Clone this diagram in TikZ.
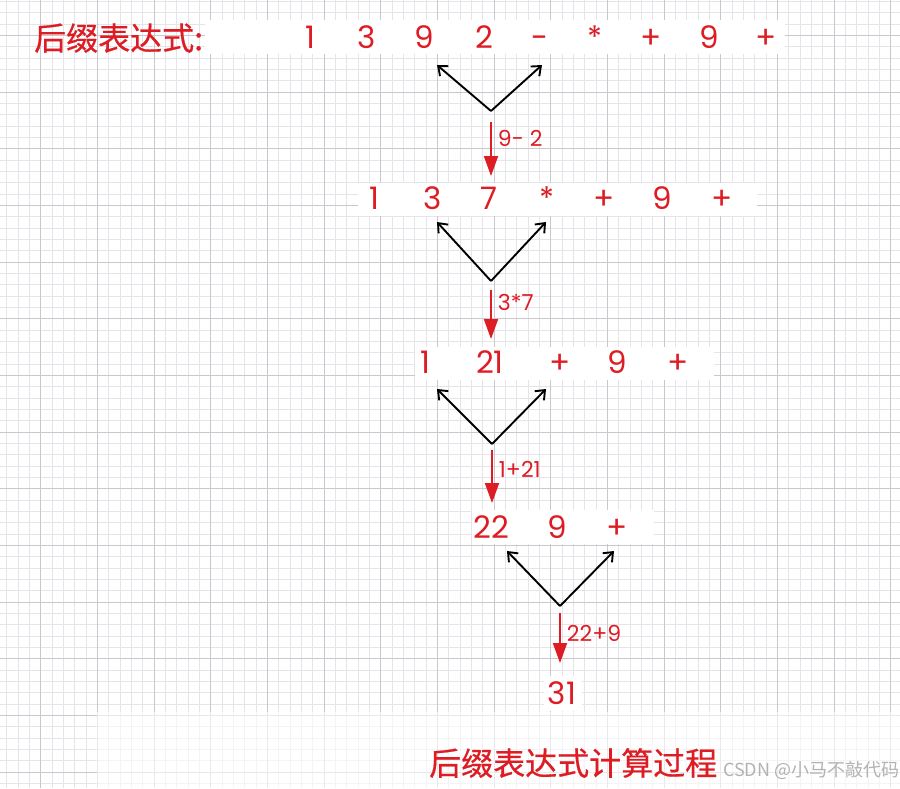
\documentclass[tikz,border=0pt]{standalone}
\usepackage{fontspec}
\setmainfont{Poppins}
\newfontfamily\cjk[FakeBold=0.5]{Noto Sans CJK SC}
\newfontfamily\cjkmark{Noto Sans CJK SC}
\usepackage{tikz}
\usetikzlibrary{arrows.meta}
\definecolor{exprred}{RGB}{222,28,36}
\definecolor{gridminor}{RGB}{229,229,233}
\definecolor{gridmajor}{RGB}{200,200,205}
\tikzset{
	tok/.style={text=exprred, font=\fontsize{31}{31}\selectfont, inner sep=0pt, text height=22pt, text depth=0pt},
	lbl/.style={text=exprred, font=\fontsize{22}{22}\selectfont, inner sep=0pt, anchor=west, xshift=6pt},
	strip/.style={fill=white, draw=none},
	varrow/.style={draw=black, line width=1.9pt, -{Straight Barb[length=8pt,width=13pt,line width=1.9pt]}},
	evalarrow/.style={draw=exprred, line width=1.9pt, -{Triangle[length=20pt,width=14pt]}}
}
\newcommand{\mytok}[4][]{
	\node [tok] (#1) at (#2, #3) {#4};
}
\newcommand{\popsplit}[3]{
	% two operands are taken off the stack
	\draw [varrow] (#1) -- (#2);
	\draw [varrow] (#1) -- (#3);
}
\newcommand{\evalstep}[4][]{
	\draw [evalarrow] (#2) -- (#3) node[lbl, pos=#4]{#1};
}

\begin{document}
\begin{tikzpicture}[x=1pt, y=-1pt]
		\useasboundingbox (0,0) rectangle (900,788);
		\fill [white] (0,0) rectangle (900,788);
		\foreach \i in {0,...,79}
			\draw [gridminor, line width=0.8pt] ({6.7+11.333*\i},0) -- ++(0,788);
		\foreach \i in {0,...,69}
			\draw [gridminor, line width=0.8pt] (0,{1.5+11.333*\i}) -- ++(900,0);
		\foreach \i in {0,...,15}
			\draw [gridmajor, line width=0.9pt] ({40.7+56.667*\i},0) -- ++(0,788);
		\foreach \i in {0,...,13}
			\draw [gridmajor, line width=0.9pt] (0,{35.5+56.667*\i}) -- ++(900,0);
		
		\fill [strip] (205,20) rectangle (785,54);
		\fill [strip] (358,183) rectangle (757,216);
		\fill [strip] (415,347) rectangle (714,380);
		\fill [strip] (472,510) rectangle (654,544);
		\fill [strip] (544,676) rectangle (582,711);
		\fill [white, opacity=0.6] (97,712) rectangle (900,788);
		
		\node [text=exprred, font=\cjk\fontsize{32}{32}\selectfont, inner sep=0pt, anchor=west] (title) at (34,38) {后缀表达式:};
		\mytok[a1]{310}{37}{1}
		\mytok[a2]{367}{37}{3}
		\mytok[a3]{424}{37}{9}
		\mytok[a4]{484}{37}{2}
		\mytok[a5]{540}{37}{-}
		\mytok[a6]{595}{37}{*}
		\mytok[a7]{651}{37}{+}
		\mytok[a8]{709}{37}{9}
		\mytok[a9]{766}{37}{+}
		
		\mytok[b1]{374}{198}{1}
		\mytok[b2]{433}{198}{3}
		\mytok[b3]{489}{198}{7}
		\mytok[b4]{547}{198}{*}
		\mytok[b5]{604}{198}{+}
		\mytok[b6]{662}{198}{9}
		\mytok[b7]{722}{198}{+}
		
		\mytok[c1]{425}{362}{1}
		\mytok[c2]{490}{362}{21}
		\mytok[c3]{560}{362}{+}
		\mytok[c4]{617}{362}{9}
		\mytok[c5]{678}{362}{+}
		
		\mytok[d1]{491}{527}{22}
		\mytok[d2]{557}{527}{9}
		\mytok[d3]{617}{527}{+}
		
		\mytok[res]{562}{693}{31}
		
		\coordinate (v1) at (491,111); \coordinate (v1l) at (437,65); \coordinate (v1r) at (542,65);
		\coordinate (v2) at (491,281); \coordinate (v2l) at (437,222); \coordinate (v2r) at (546,222);
		\coordinate (v3) at (492,444); \coordinate (v3l) at (437,389); \coordinate (v3r) at (546,389);
		\coordinate (v4) at (560,606); \coordinate (v4l) at (507,551); \coordinate (v4r) at (614,551);
		\popsplit{v1}{v1l}{v1r}
		\popsplit{v2}{v2l}{v2r}
		\popsplit{v3}{v3l}{v3r}
		\popsplit{v4}{v4l}{v4r}
		
		\coordinate (e1s) at (491,122); \coordinate (e1t) at (491,176);
		\coordinate (e2s) at (491,290); \coordinate (e2t) at (491,339);
		\coordinate (e3s) at (492,450); \coordinate (e3t) at (492,503);
		\coordinate (e4s) at (560,613); \coordinate (e4t) at (560,663);
		\evalstep[9- 2]{e1s}{e1t}{0.3}
		\evalstep[3*7]{e2s}{e2t}{0.25}
		\evalstep[1+21]{e3s}{e3t}{0.37}
		\evalstep[22+9]{e4s}{e4t}{0.4}
		
		\node [text=exprred, font=\cjk\fontsize{32}{32}\selectfont, inner sep=0pt, anchor=west] (caption) at (429,763) {后缀表达式计算过程};
		\node [text=black!30, font=\cjkmark\fontsize{18}{18}\selectfont, inner sep=0pt, anchor=west] (mark) at (723,770) {CSDN @小马不敲代码};
		\end{tikzpicture}
\end{document}
